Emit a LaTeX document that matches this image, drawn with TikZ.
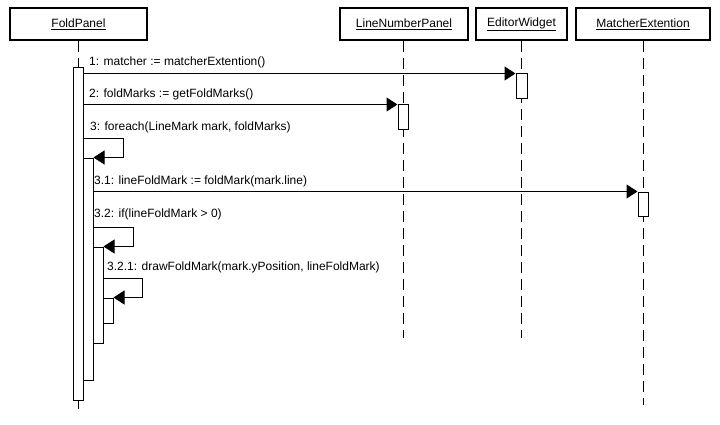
\documentclass[tikz,border=0pt]{standalone}
\usepackage{fontspec}
\setmainfont{Liberation Sans}
\usetikzlibrary{arrows.meta}
\tikzset{
	obj/.style={draw, line width=2pt, fill=white, inner sep=0, font=\fontsize{12}{14}\selectfont},
	act/.style={draw, line width=1pt, fill=white, inner sep=0, minimum width=10},
	lifeline/.style={line width=1pt, dash pattern=on 11pt off 6pt},
	msg/.style={line width=1pt, -{Triangle[length=11pt,width=14pt]}},
	lbl/.style={anchor=west, inner sep=0, font=\fontsize{12}{14}\selectfont}
}

\begin{document}
\begin{tikzpicture}[x=1pt,y=-1pt]
			%%%%% START %%%%%
			\useasboundingbox[fill=white] (0,0) rectangle (720,425);
			
			\node[obj, minimum width=137, minimum height=32] (fp) at (78.5,24) {\underline{FoldPanel}};
			\node[obj, minimum width=128, minimum height=32] (lnp) at (404,24) {\underline{LineNumberPanel}};
			\node[obj, minimum width=91, minimum height=32] (ew) at (521.5,24) {\underline{EditorWidget}};
			\node[obj, minimum width=134, minimum height=32] (me) at (643,24) {\underline{MatcherExtention}};
			
			\coordinate (fpend) at (78,412);
			\coordinate (lnpend) at (403,338);
			\coordinate (ewend) at (521.5,338);
			\coordinate (meend) at (643,405);
			\draw[lifeline] (fpend |- fp.south) -- (fpend);
			\draw[lifeline] (lnpend |- lnp.south) -- (lnpend);
			\draw[lifeline] (ewend |- ew.south) -- (ewend);
			\draw[lifeline] (meend |- me.south) -- (meend);
			
			\node[act, minimum height=332] (fp1) at (78,234) {};
			\node[act, minimum height=222] (fp2) at (88,269) {};
			\node[act, minimum height=96] (fp3) at (98,295) {};
			\node[act, minimum height=25] (fp4) at (108,310.5) {};
			\node[act, minimum width=11, minimum height=25] (ew1) at (521.5,86.5) {};
			\node[act, minimum height=25] (lnp1) at (403,117.5) {};
			\node[act, minimum height=24] (me1) at (643,204) {};
			
			% messages
			\draw[msg] (fp1.east |- ew1.north) -- (ew1.north west);
			\node[lbl] (l1) at (89,62) {1: matcher := matcherExtention()};
			
			\draw[msg] (fp1.east |- lnp1.north) -- (lnp1.north west);
			\node[lbl] (l2) at (89,94) {2: foldMarks := getFoldMarks()};
			
			\coordinate (s3) at (83,139);
			\draw[msg] (s3) -- ++(40,0) |- (fp2.north east);
			\node[lbl] (l3) at (90,127) {3: foreach(LineMark mark, foldMarks)};
			
			\draw[msg] (fp2.east |- me1.north) -- (me1.north west);
			\node[lbl] (l31) at (94,181) {3.1: lineFoldMark := foldMark(mark.line)};
			
			\coordinate (s32) at (93,227);
			\draw[msg] (s32) -- ++(40,0) |- (fp3.north east);
			\node[lbl] (l32) at (94,214) {3.2: if(lineFoldMark > 0)};
			
			\coordinate (s321) at (103,278);
			\draw[msg] (s321) -- ++(39,0) |- (fp4.north east);
			\node[lbl] (l321) at (107,267) {3.2.1: drawFoldMark(mark.yPosition, lineFoldMark)};
			%%%%% END %%%%%
		\end{tikzpicture}
\end{document}
